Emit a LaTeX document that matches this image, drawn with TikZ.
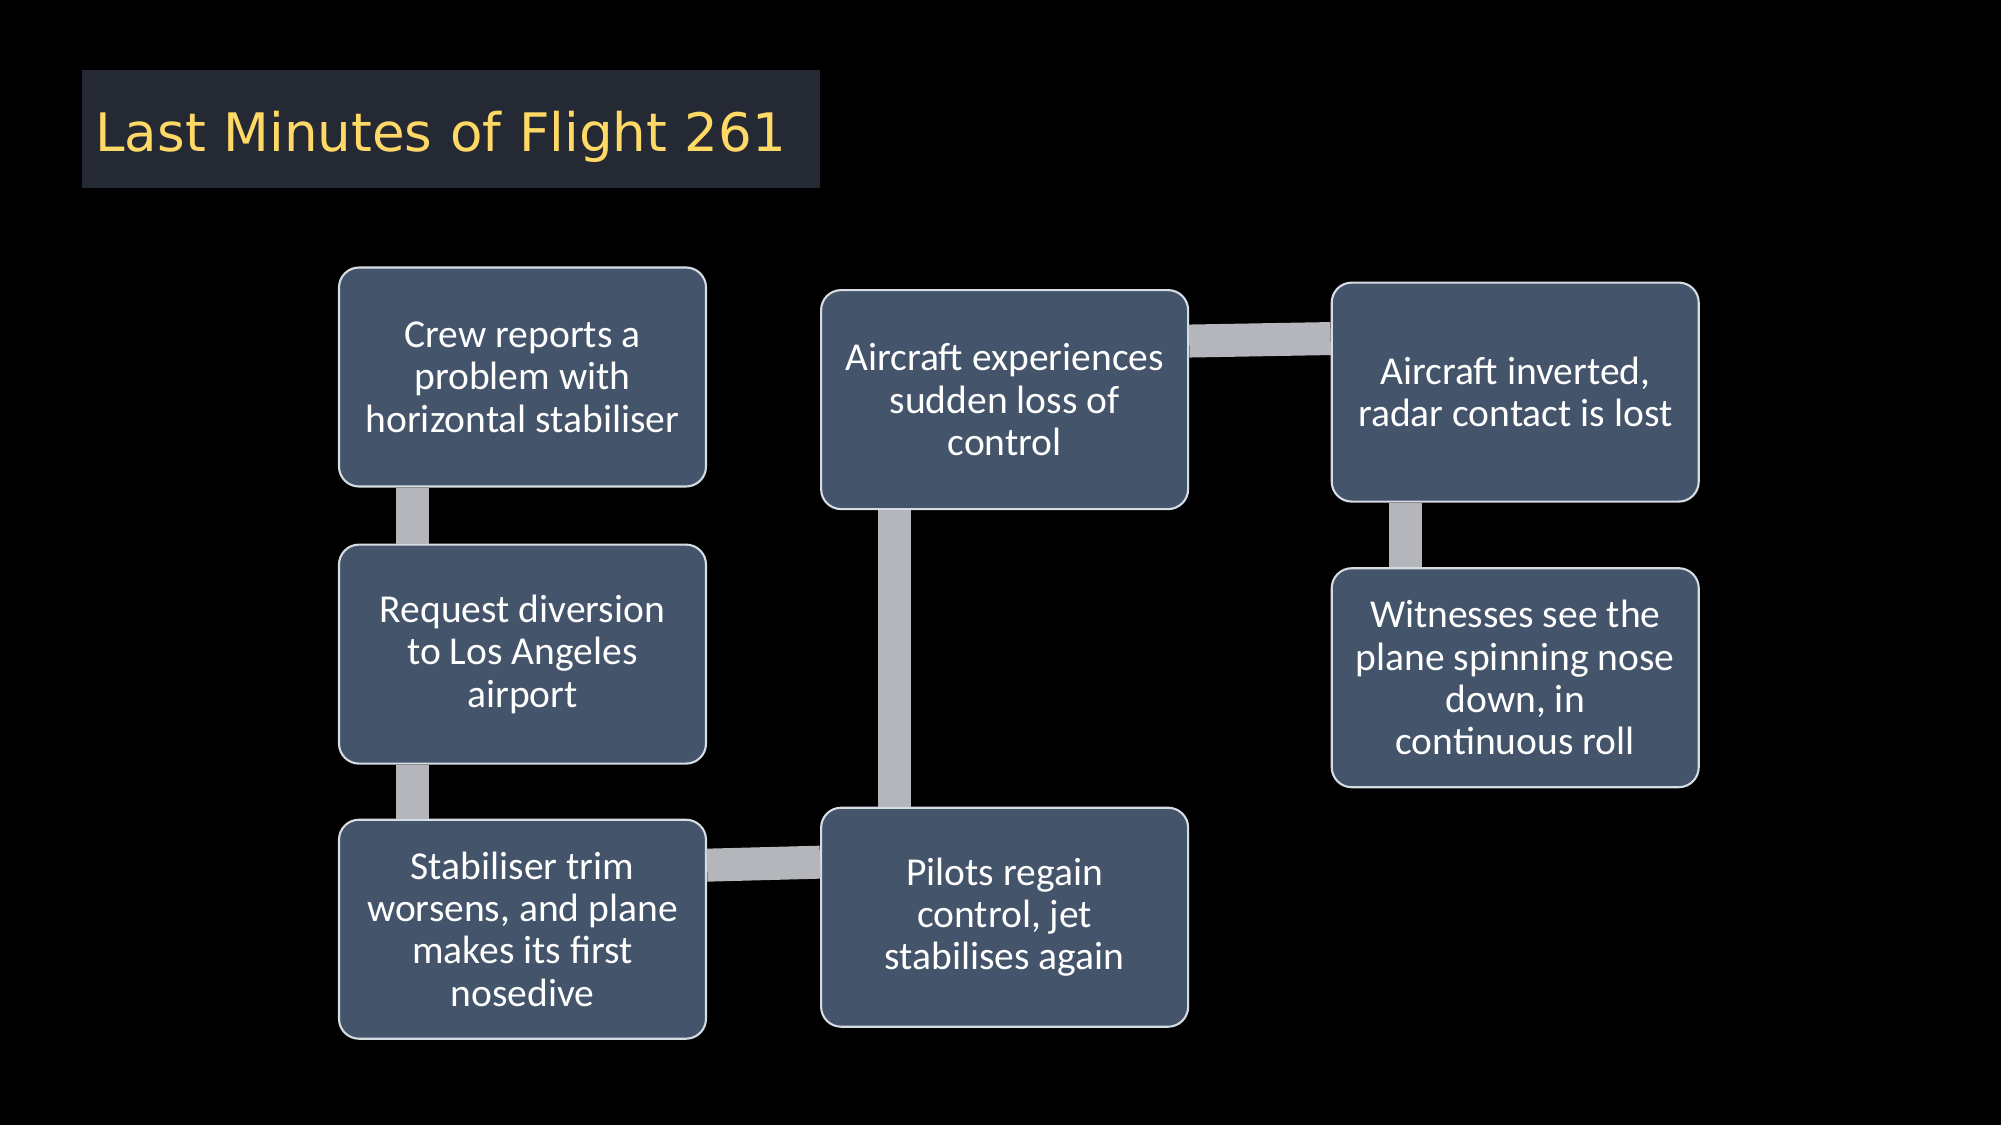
\documentclass[tikz,border=0pt]{standalone}
\usepackage{fontspec}
\setmainfont{Carlito}
\newfontfamily\titlefont{DejaVu Sans}
\usepackage{xcolor}
\usepackage{tikz}
\usetikzlibrary{positioning,calc}
\definecolor{slidebg}{RGB}{0,0,0}
\definecolor{titlebg}{RGB}{36,41,52}
\definecolor{titlegold}{RGB}{255,217,102}
\definecolor{stagefill}{RGB}{68,84,106}
\definecolor{stageline}{RGB}{214,220,228}
\definecolor{linkgray}{RGB}{180,182,187}

\begin{document}
\begin{tikzpicture}[
    titlebar/.style={rectangle, fill=titlebg, anchor=north west, minimum width=14.77cm, minimum height=2.35cm, text width=14.23cm, inner xsep=0.27cm, align=left, text height=0.90cm, text depth=0pt, text=titlegold, font=\titlefont\fontsize{30.2}{36}\selectfont},
    stagebox/.style={rectangle, draw=stageline, line width=1.2pt, fill=stagefill, rounded corners=0.4cm, minimum width=7.34cm, minimum height=4.38cm, align=center, text=white, font=\fontsize{22.5}{24.1}\selectfont},
    link/.style={draw=linkgray, line width=0.66cm}
]

\fill[slidebg] (0,0) rectangle (40.02,-22.5);
\useasboundingbox (0,0) rectangle (40.02,-22.5);

\node[titlebar] (title) at (1.63,-1.40) {Last Minutes of Flight 261};

\node[stagebox] (crew) at (10.45,-7.54) {Crew reports a\\problem with\\horizontal stabiliser};
\node[stagebox, below=1.12cm of crew] (divert) {Request diversion\\to Los Angeles\\airport};
\node[stagebox, below=1.08cm of divert] (trim) {Stabiliser trim\\worsens, and plane\\makes its first\\nosedive};
\node[stagebox, right=2.26cm of trim, yshift=0.24cm] (regain) {Pilots regain\\control, jet\\stabilises again};
\node[stagebox, above=5.93cm of regain] (loss) {Aircraft experiences\\sudden loss of\\control};
\node[stagebox, right=2.83cm of loss, yshift=0.15cm] (invert) {Aircraft inverted,\\radar contact is lost};
\node[stagebox, below=1.29cm of invert] (witness) {Witnesses see the\\plane spinning nose\\down, in\\continuous roll};

\draw[link] ([xshift=1.5cm]crew.south west) -- ([xshift=1.5cm]divert.north west);
\draw[link] ([xshift=1.5cm]divert.south west) -- ([xshift=1.5cm]trim.north west);
\draw[link] ([yshift=-0.93cm]trim.north east) -- ([yshift=-1.11cm]regain.north west);
\draw[link] ([xshift=1.49cm]regain.north west) -- ([xshift=1.49cm]loss.south west);
\draw[link] ([yshift=-1.04cm]loss.north east) -- ([yshift=-1.14cm]invert.north west);
\draw[link] ([xshift=1.49cm]invert.south west) -- ([xshift=1.49cm]witness.north west);

\end{tikzpicture}
\end{document}
